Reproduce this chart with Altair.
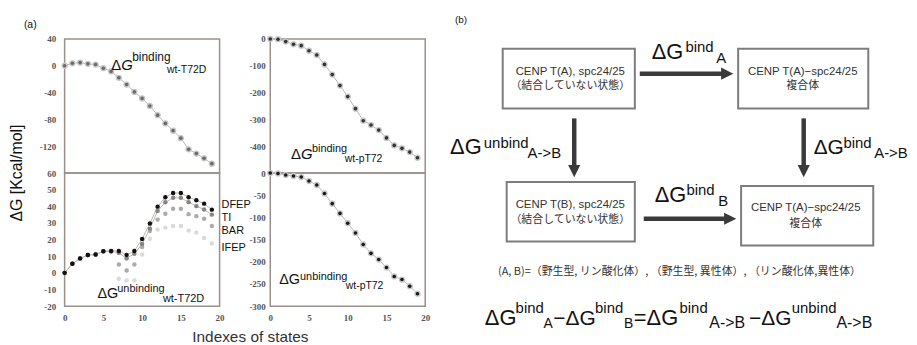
import altair as alt
import pandas as pd

# ---------------- data ----------------
state_index = list(range(20))
x_ticks = [0, 5, 10, 15, 20]

binding_wt_T72D = [0.0, 3.7, 4.7, 2.8, 1.8, -3.7, -8.5, -18.0, -28.0, -39.0,
                   -48.7, -60.0, -73.7, -86.0, -96.8, -108.0, -124.7, -131.0, -138.0, -146.0]
binding_wt_pT72 = [0, -1, -10, -20, -25, -44, -60, -95, -133, -174,
                   -215, -260, -305, -321, -340, -369, -397, -408, -422, -443]
unbinding_wt_pT72 = [0, -1, -4.5, -6.7, -9, -18, -27, -46, -69, -91,
                     -113, -135, -161, -181, -195, -213, -233, -240, -255, -272]

unbinding_DFEP = [0, 5.5, 8.7, 10.7, 11.0, 13.0, 13.2, 13.2, 10.8, 13.2,
                  20.3, 29.7, 39.8, 45.4, 48.0, 48.0, 45.4, 43.7, 41.6, 38.0]
unbinding_TI = [0, 5.5, 8.7, 10.7, 11.0, 13.0, 13.0, 12.0, 8.7, 11.5,
                17.3, 26.6, 37.2, 42.4, 45.1, 45.1, 42.5, 40.1, 38.1, 35.0]
unbinding_BAR = [0, 5.5, 8.7, 10.7, 11.0, 13.0, 12.8, 5.0, 1.4, 5.0,
                 15.5, 25.2, 32.0, 35.5, 38.5, 38.5, 35.3, 34.1, 32.5, 28.2]
unbinding_IFEP = [0, 5.5, 8.7, 10.7, 11.0, 13.0, 12.5, -3.5, -4.5, -4.5,
                  11.0, 20.5, 26.0, 27.2, 28.2, 28.2, 25.4, 24.2, 21.0, 17.6]
methods = ["IFEP", "BAR", "TI", "DFEP"]

tl_ticks = [40, 0, -40, -80, -120]
bl_ticks = [60, 50, 40, 30, 20, 10, 0, -10, -20]
tr_ticks = [0, -100, -200, -300, -400]
br_ticks = [0, -50, -100, -150, -200, -250, -300]

# ---------------- styles ----------------
FRAME = "#9b908b"
LINE = "#c2b6b0"
SANS = "Liberation Sans"
SERIF = "Liberation Serif"
CJK = "Noto Sans CJK JP"
method_colors = {"IFEP": "#dadada", "BAR": "#ababab", "TI": "#858585", "DFEP": "#111111"}
LABEL_EXPR = "replace(format(datum.value, 'd'), '\u2212', '-')"


def axis(values, pad):
    return alt.Axis(values=values, title=None, labelPadding=pad, labelFlush=False,
                    labelExpr=LABEL_EXPR, labelFont=SERIF, labelFontSize=9,
                    labelFontWeight="bold", labelColor="#555555")


def x_enc(show):
    ax = axis(x_ticks, 7) if show else None
    return alt.X("i:Q", scale=alt.Scale(domain=[0, 20], nice=False, zero=False), axis=ax)


def y_enc(domain, ticks, pad):
    return alt.Y("v:Q", scale=alt.Scale(domain=domain, nice=False, zero=False), axis=axis(ticks, pad))


def single_panel(values, domain, ticks, pad, h, show_x, core):
    df = pd.DataFrame({"i": state_index, "v": values})
    base = alt.Chart(df).encode(x=x_enc(show_x), y=y_enc(domain, ticks, pad))
    return alt.layer(
        base.mark_line(color=LINE, strokeWidth=1),
        base.mark_circle(color="#c6c6c6", size=40, opacity=1),
        base.mark_circle(color=core, size=13, opacity=1),
    ).properties(width=156, height=h)


tl = single_panel(binding_wt_T72D, [-160, 40], tl_ticks, 9, 135, False, "#6a6a6a")
tr = single_panel(binding_wt_pT72, [-500, 0], tr_ticks, 5, 135, False, "#333333")
br = single_panel(unbinding_wt_pT72, [-300, 0], br_ticks, 5, 134, True, "#1a1a1a")

series_values = {"DFEP": unbinding_DFEP, "TI": unbinding_TI, "BAR": unbinding_BAR, "IFEP": unbinding_IFEP}
bl_layers = []
for m in ["TI", "DFEP"]:
    d = pd.DataFrame({"i": state_index, "v": series_values[m]})
    bl_layers.append(alt.Chart(d).mark_line(color=LINE, strokeWidth=1).encode(
        x=x_enc(True), y=y_enc([-20, 60], bl_ticks, 9)))
for m in methods:
    d = pd.DataFrame({"i": state_index, "v": series_values[m]})
    bl_layers.append(alt.Chart(d).mark_circle(color=method_colors[m], size=20, opacity=1).encode(
        x=x_enc(True), y=y_enc([-20, 60], bl_ticks, 9)))
bl = alt.layer(*bl_layers).properties(width=156, height=134)

# ---------------- diagram / annotation layer (page coordinates) ----------------
xs = alt.Scale(domain=[478, 909], nice=False, zero=False)
ys = alt.Scale(domain=[37, 172], nice=False, zero=False, reverse=True)


def X(f):
    return alt.X(f"{f}:Q", scale=xs, axis=None)


def Y(f):
    return alt.Y(f"{f}:Q", scale=ys, axis=None)


def text_layer(rows, **mk):
    df = pd.DataFrame(rows, columns=["t", "x", "y", "s"])
    return alt.Chart(df).mark_text(**mk).encode(
        x=X("x"), y=Y("y"), text="t:N", size=alt.Size("s:Q", scale=None))


left_text = [
    ("Δ", 111, 68.5, 15), ("binding", 132, 59, 12), ("wt-T72D", 167, 71, 10.5),
    ("Δ", 292, 157.5, 15), ("binding", 313, 151, 11), ("wt-pT72", 346, 161, 10.5),
    ("ΔG", 97, 298, 14.5), ("unbinding", 117, 292, 11), ("wt-T72D", 163, 302, 11),
    ("ΔG", 280, 284, 14.5), ("unbinding", 301, 280, 11), ("wt-pT72", 347, 289, 10.5),
    ("DFEP", 222, 207, 11), ("TI", 222, 220.5, 11), ("BAR", 222, 233, 11), ("IFEP", 222, 250, 11),
    ("(a)", 23, 26, 10.5), ("(b)", 457, 21, 10),
    ("ΔG", 655, 57, 22), ("bind", 689, 50, 15), ("A", 720, 61.5, 15),
    ("ΔG", 452, 153, 22), ("unbind", 486, 146.5, 15), ("A->B", 530, 157, 15),
    ("ΔG", 818, 153, 21), ("bind", 848, 146.5, 15), ("A->B", 879, 157, 15),
    ("ΔG", 658, 201, 22), ("bind", 690, 194, 15), ("B", 722, 205, 15),
    ("ΔG", 487, 325, 22), ("bind", 518, 313, 15), ("A", 546, 328, 14),
    ("−ΔG", 556, 325, 21), ("bind", 598, 313, 15), ("B", 627, 328, 14),
    ("=ΔG", 637, 325, 22), ("bind", 683, 313, 15), ("A->B", 713, 328, 16),
    ("−ΔG", 753, 325, 21), ("unbind", 796, 313, 15), ("A->B", 841, 328, 16),
]
italic_text = [("G", 121, 68.5, 15), ("G", 302, 157.5, 15)]
box_latin = [
    ("CENP T(A), spc24/25", 573, 70.5, 11.5), ("CENP T(A)−spc24/25", 807, 70.5, 11.5),
    ("CENP T(B), spc24/25", 573, 204, 11.5), ("CENP T(A)−spc24/25", 810, 207.5, 11.5),
    ("Indexes of states", 251, 337, 15.5),
]
box_cjk = [
    ("（結合していない状態）", 573, 84, 11), ("複合体", 807, 84, 11),
    ("（結合していない状態）", 573, 219, 11), ("複合体", 810, 223, 11),
    ("(A, B)=（野生型, リン酸化体）, （野生型, 異性体）, （リン酸化体,異性体）", 683, 272, 11),
]
y_title = [("ΔG [Kcal/mol]", 16, 172, 16)]

boxes = pd.DataFrame({"x0": [505, 742, 509, 745], "x1": [638, 873, 638, 878],
                      "y0": [47, 47, 181, 185], "y1": [107, 107, 241, 245]})
shafts = pd.DataFrame({"x0": [643, 577, 808, 647], "x1": [731, 577, 808, 734],
                       "y0": [72, 117, 117, 218], "y1": [72, 170, 170, 218]})
heads_right = pd.DataFrame({"x": [731, 734], "y": [72, 218]})
heads_down = pd.DataFrame({"x": [577, 808], "y": [170, 170]})
anchor = pd.DataFrame({"x0": [8], "x1": [11], "y0": [8], "y1": [11]})

diagram = alt.layer(
    alt.Chart(anchor).mark_rect(opacity=0).encode(x=X("x0"), x2="x1:Q", y=Y("y0"), y2="y1:Q"),
    alt.Chart(boxes).mark_rect(fill="white", stroke="#7d7d7d", strokeWidth=2).encode(
        x=X("x0"), x2="x1:Q", y=Y("y0"), y2="y1:Q"),
    alt.Chart(shafts).mark_rule(color="#3a3a3a", strokeWidth=4.5).encode(
        x=X("x0"), x2="x1:Q", y=Y("y0"), y2="y1:Q"),
    alt.Chart(heads_right).mark_point(shape="M-1,-1L1,0L-1,1Z", filled=True, size=150,
                                      color="#3a3a3a", opacity=1).encode(x=X("x"), y=Y("y")),
    alt.Chart(heads_down).mark_point(shape="M-1,-1L1,-1L0,1Z", filled=True, size=150,
                                     color="#3a3a3a", opacity=1).encode(x=X("x"), y=Y("y")),
    text_layer(left_text, font=SANS, align="left", baseline="alphabetic", color="#111111"),
    text_layer(italic_text, font=SANS, fontStyle="italic", align="left", baseline="alphabetic", color="#111111"),
    text_layer(box_latin, font=SANS, align="center", baseline="middle", color="#333333"),
    text_layer(box_cjk, font=CJK, align="center", baseline="middle", color="#333333"),
    text_layer(y_title, font=SANS, align="center", baseline="middle", angle=270, color="#111111"),
).properties(width=431, height=135, view=alt.ViewBackground(stroke="transparent"))

chart = alt.concat(
    tl, tr, diagram, bl, br,
    columns=3, spacing={"row": 0, "column": 51}, bounds="flush", align="each",
).properties(padding=0, background="white").configure_view(
    stroke=FRAME, strokeWidth=1.5
).configure_axis(
    grid=False, domain=False, ticks=False, labelOverlap=False,
)

chart.save("out.html", embed_options={"renderer": "svg", "actions": False})
